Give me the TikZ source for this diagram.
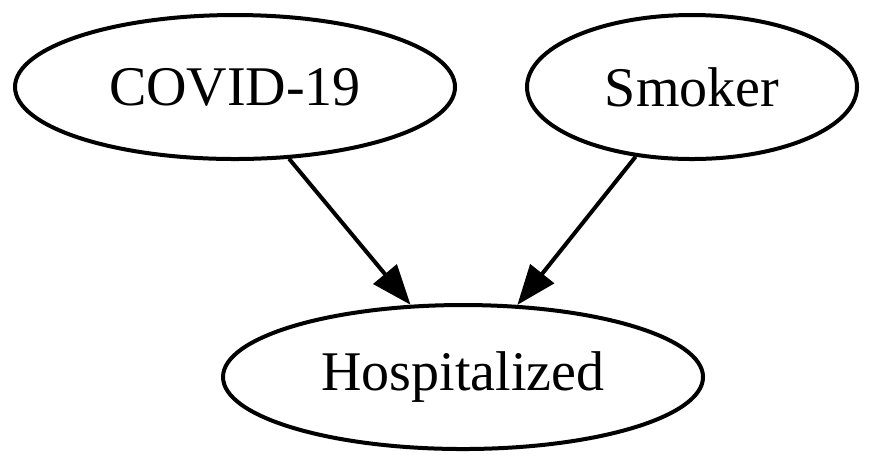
\documentclass[tikz,border=0pt]{standalone}
\usepackage{fontspec}
\setmainfont{Liberation Serif}
\usetikzlibrary{arrows.meta,shapes.geometric}
\begin{document}
\begin{tikzpicture}[x=0.25pt,y=0.25pt,
  var/.style={draw, ellipse, line width=1pt, inner sep=0pt, minimum height=36pt, font=\fontsize{14pt}{16pt}\selectfont},
  edge/.style={line width=1pt, -{Triangle[length=10pt,width=7.5pt]}}]
\useasboundingbox (0,0) rectangle (873,465);
\node[var, minimum width=110pt] (covid) at (235,378) {COVID-19};
\node[var, minimum width=82.5pt] (smoker) at (692,378) {Smoker};
\node[var, minimum width=120pt] (hosp) at (463,88) {Hospitalized};

\path[draw,edge] (covid.-53) -- (hosp.126);
\path[draw,edge] (smoker.-129) -- (hosp.53);
\end{tikzpicture}
\end{document}
